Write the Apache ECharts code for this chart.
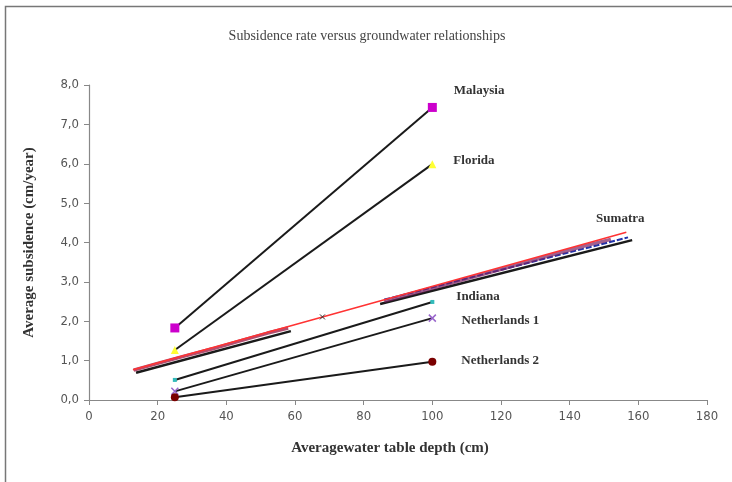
<!DOCTYPE html>
<html><head><meta charset="utf-8">
<script src="https://cdn.jsdelivr.net/npm/echarts@6/dist/echarts.min.js"></script>
<style>html,body{margin:0;padding:0;background:#fff}#c{width:732px;height:482px}</style>
</head><body><div id="c"></div>
<script>
// Data (x = average water table depth cm, y = average subsidence cm/year)
const xTicks = [0,20,40,60,80,100,120,140,160,180];
const yTicks = [0,1,2,3,4,5,6,7,8];
const malaysia = [[25,1.83],[100,7.43]];
const florida = [[25,1.27],[100,5.99]];
const indiana = [[25,0.51],[100,2.49]];
const netherlands1 = [[25,0.22],[100,2.08]];
const netherlands2 = [[25,0.07],[100,0.97]];
const sumatraRed = [[12.8,0.77],[68,2.11],[156.5,4.26]];
const sumatraBlack1 = [[13.7,0.69],[58.8,1.75]];
const sumatraBlack2 = [[84.8,2.44],[158.2,4.06]];
const sumatraBlue = [[86,2.55],[157,4.13]];
const sumatraPts1 = [[13,0.76],[20,0.93],[28,1.12],[36,1.3],[44,1.5],[52,1.7],[58,1.83]];
const sumatraPts2 = [[86,2.51],[95,2.72],[105,2.96],[115,3.2],[125,3.44],[135,3.69],[145,3.93],[152,4.08]];

const chart = echarts.init(document.getElementById('c'));
const serif = '"Liberation Serif","DejaVu Serif",serif';
function lineS(name, data, color, width, symbol, symColor, symSize, label, extra){
  const s = {
    name, type:'line', data, showSymbol: !!symbol, symbol: symbol||'none', symbolSize: symSize||6,
    lineStyle:{color, width}, itemStyle:{color: symColor||color}, z: 3, animation:false,
    emphasis:{disabled:true}
  };
  if (label) {
    s.label = {show:false};
    s.data = data.map((d,i)=> i===data.length-1 ? {value:d, label:{show:true, formatter:name, position:label.pos||'right',
      offset:label.off, fontFamily:serif, fontWeight:'bold', fontSize:13, color:'#333'}} : d);
  }
  return Object.assign(s, extra||{});
}
const option = {
  backgroundColor:'#fff',
  animation:false,
  title:{text:'Subsidence rate versus groundwater relationships', left:362, top:24, textAlign:'center',
    textStyle:{fontFamily:serif, fontWeight:'normal', fontSize:14, color:'#444'}},
  grid:{left:89, top:85, right:25, bottom:82},
  xAxis:{type:'value', min:0, max:180, interval:20,
    name:'Averagewater table depth (cm)', nameLocation:'middle', nameGap:41,
    nameTextStyle:{fontFamily:serif, fontWeight:'bold', fontSize:15, color:'#333', padding:[0,16,0,0]},
    axisLine:{show:true, lineStyle:{color:'#888', width:1.2}},
    axisTick:{show:true, length:5, lineStyle:{color:'#888'}},
    axisLabel:{color:'#555', fontSize:13, fontFamily:'"DejaVu Sans Condensed","Liberation Sans",sans-serif', margin:10,
      formatter:v=>String(v)},
    splitLine:{show:false}},
  yAxis:{type:'value', min:0, max:8, interval:1,
    name:'Average subsidence (cm/year)', nameLocation:'middle', nameGap:52, nameRotate:90,
    nameTextStyle:{fontFamily:serif, fontWeight:'bold', fontSize:15, color:'#333'},
    axisLine:{show:true, lineStyle:{color:'#888', width:1.2}},
    axisTick:{show:true, length:5, lineStyle:{color:'#888'}},
    axisLabel:{color:'#555', fontSize:13, fontFamily:'"DejaVu Sans Condensed","Liberation Sans",sans-serif', margin:10,
      formatter:v=>v.toFixed(1).replace('.',',')},
    splitLine:{show:false}},
  graphic:[{type:'rect', shape:{x:5.5,y:6.5,width:760,height:500}, style:{fill:null, stroke:'#777', lineWidth:1.5}, silent:true}],
  series:[
    lineS('Malaysia', malaysia, '#1a1a1a', 2, 'rect', '#cc00cc', 9, {off:[12,-17]}),
    lineS('Florida', florida, '#1a1a1a', 2, 'triangle', '#ffff33', 8, {off:[12,-4]}),
    lineS('Indiana', indiana, '#1a1a1a', 2, 'rect', '#33bbbb', 4, {off:[17,-5]}),
    lineS('Netherlands 1', netherlands1, '#1a1a1a', 2, 'path://M0,0L10,10M10,0L0,10', '#9966cc', 7, {off:[20,3]},
      {itemStyle:{color:'#9966cc', borderColor:'#9966cc', borderWidth:1.5}}),
    lineS('Netherlands 2', netherlands2, '#1a1a1a', 2, 'circle', '#7a0000', 8, {off:[20,-1]}),
    lineS('black1', sumatraBlack1, '#1a1a1a', 2.5),
    lineS('black2', sumatraBlack2, '#1a1a1a', 2.5),
    lineS('blue', sumatraBlue, '#2233aa', 2, null, null, null, null, {lineStyle:{color:'#2233aa', width:2, type:[6,2]}}),
    lineS('pts1', sumatraPts1, '#a0204a', 3, null, null, null, null, {lineStyle:{color:'#a0204a', width:3.5, opacity:0.8}}),
    lineS('pts2', sumatraPts2, '#7a2060', 3, null, null, null, null, {lineStyle:{color:'#7a2060', width:3.5, opacity:0.7}}),
    (function(){
      const s = lineS('Sumatra', sumatraRed, '#ff3333', 1.6, 'path://M0,0L10,10M10,0L0,10', '#333', 5, {pos:'top', off:[-6,-2]},
        {showSymbol:true, itemStyle:{color:'#333', borderColor:'#333', borderWidth:1}});
      s.data = s.data.map((d,i)=>{
        const o = Array.isArray(d) ? {value:d} : d;
        if (i !== 1) o.symbolSize = 0;
        return o;
      });
      return s;
    })()
  ]
};
chart.setOption(option);
</script></body></html>
